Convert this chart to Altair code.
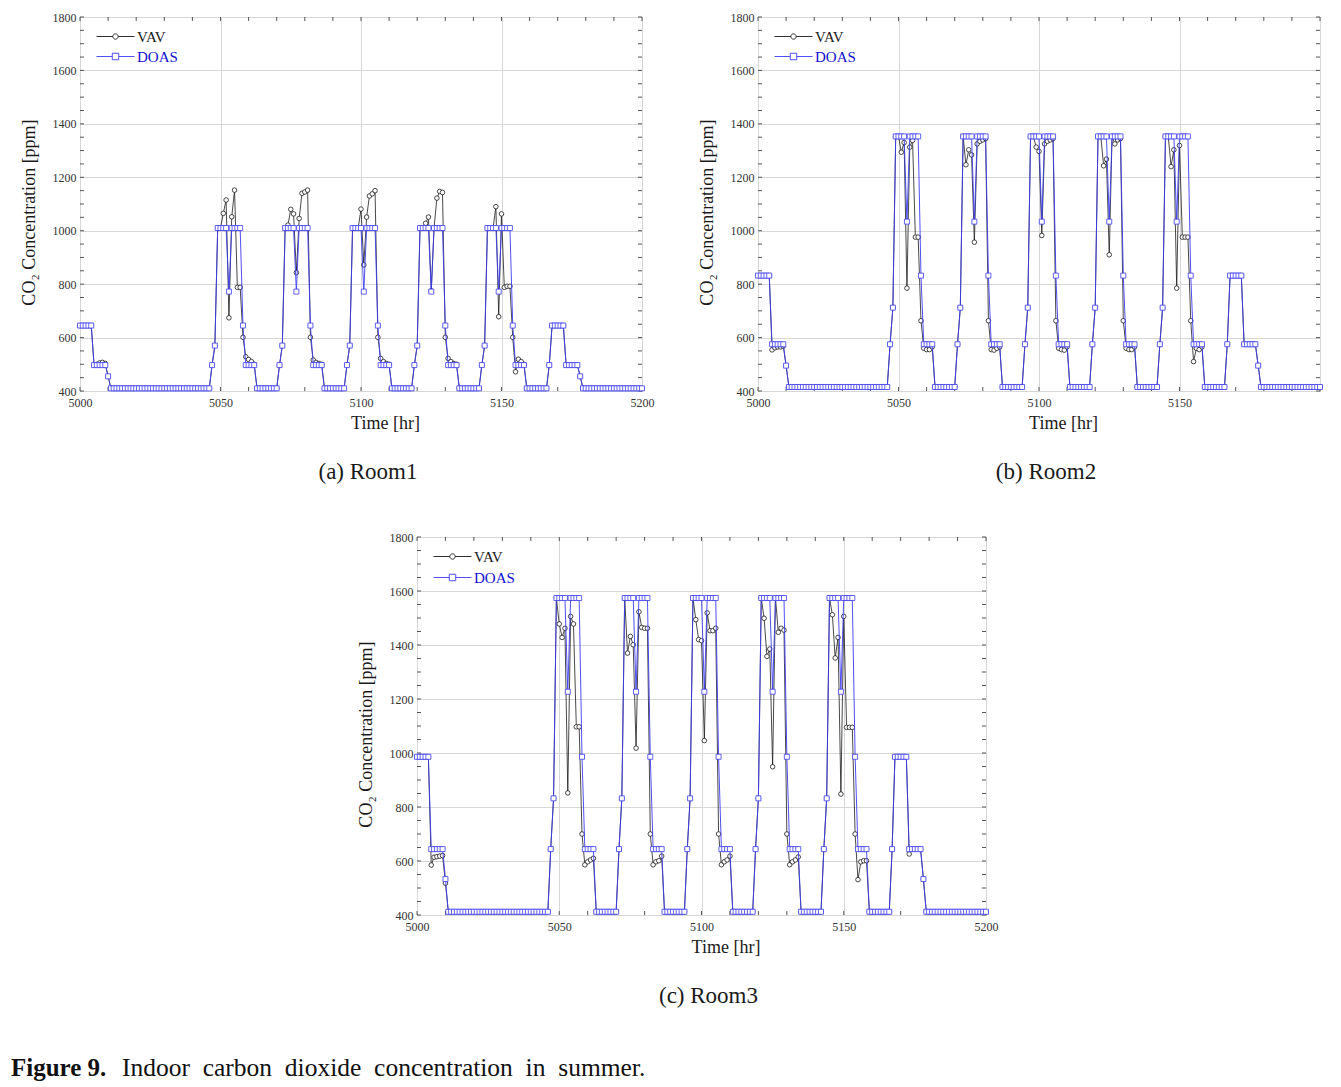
import altair as alt
import pandas as pd

SERIF = "Liberation Serif"
INK = "#1a1a1a"
BLUE = "#3c3cf2"
BLUE_TEXT = "#1010d0"
GRID = "#d6d6d6"
FRAME = "#555555"
LABEL = "#333333"

HOURS = list(range(5000, 5201))
X_LABELS = [5000, 5050, 5100, 5150, 5200]
X_MINOR = list(range(5000, 5201, 10))
Y_LABELS = list(range(400, 1801, 200))
Y_MINOR = list(range(400, 1801, 50))

# ---- Room 1 (value, number of consecutive hourly points) ----
DOAS_R1 = [
    (645, 5), (497, 5), (455, 1), (410, 36),
    (497, 1), (570, 1), (1010, 4), (772, 1), (1010, 4), (645, 1), (497, 4), (410, 8),
    (497, 1), (570, 1), (1010, 4), (772, 1), (1010, 4), (645, 1), (497, 4), (410, 8),
    (497, 1), (570, 1), (1010, 4), (772, 1), (1010, 4), (645, 1), (497, 4), (410, 8),
    (497, 1), (570, 1), (1010, 4), (772, 1), (1010, 4), (645, 1), (497, 4), (410, 8),
    (497, 1), (570, 1), (1010, 4), (772, 1), (1010, 4), (645, 1), (497, 4), (410, 8),
    (497, 1), (645, 5), (497, 5), (455, 1), (410, 22),
]
VAV_R1 = [
    (645, 5), (497, 1), (500, 1), (505, 1), (507, 1), (503, 1), (455, 1), (410, 36),
    (497, 1), (570, 1), (1010, 2), (1065, 1), (1115, 1), (674, 1), (1052, 1), (1152, 1),
    (788, 2), (601, 1), (528, 1), (518, 1), (510, 1), (500, 1), (410, 8),
    (497, 1), (570, 1), (1010, 1), (1021, 1), (1080, 1), (1063, 1), (843, 1), (1046, 1),
    (1140, 1), (1145, 1), (1152, 1), (601, 1), (516, 1), (507, 1), (503, 1), (500, 1), (410, 8),
    (497, 1), (570, 1), (1010, 3), (1081, 1), (872, 1), (1051, 1), (1130, 1), (1138, 1),
    (1150, 1), (601, 1), (522, 1), (510, 1), (503, 1), (500, 1), (410, 8),
    (497, 1), (570, 1), (1010, 2), (1028, 1), (1051, 1), (775, 1), (1010, 1), (1122, 1),
    (1147, 1), (1143, 1), (601, 1), (522, 1), (510, 1), (503, 1), (500, 1), (410, 8),
    (497, 1), (570, 1), (1010, 3), (1090, 1), (678, 1), (1063, 1), (788, 1), (792, 2),
    (601, 1), (472, 1), (519, 1), (510, 1), (500, 1), (410, 8),
    (497, 1), (645, 5), (497, 5), (455, 1), (410, 22),
]

# ---- Room 2 ----
DOAS_R2 = [
    (832, 5), (575, 5), (495, 1), (415, 36),
    (575, 1), (712, 1), (1353, 4), (1034, 1), (1353, 4), (832, 1), (575, 4), (415, 8),
    (575, 1), (712, 1), (1353, 4), (1034, 1), (1353, 4), (832, 1), (575, 4), (415, 8),
    (575, 1), (712, 1), (1353, 4), (1034, 1), (1353, 4), (832, 1), (575, 4), (415, 8),
    (575, 1), (712, 1), (1353, 4), (1034, 1), (1353, 4), (832, 1), (575, 4), (415, 8),
    (575, 1), (712, 1), (1353, 4), (1034, 1), (1353, 4), (832, 1), (575, 4), (415, 8),
    (575, 1), (832, 5), (575, 5), (495, 1), (415, 22),
]
VAV_R2 = [
    (832, 5), (554, 1), (562, 1), (565, 2), (568, 1), (495, 1), (415, 36),
    (575, 1), (712, 1), (1353, 2), (1294, 1), (1330, 1), (785, 1), (1313, 1), (1338, 1),
    (976, 2), (663, 1), (560, 1), (555, 2), (565, 1), (415, 8),
    (575, 1), (712, 1), (1353, 1), (1247, 1), (1303, 1), (1284, 1), (957, 1), (1325, 1),
    (1335, 1), (1340, 1), (1345, 1), (663, 1), (555, 1), (553, 1), (560, 1), (565, 1), (415, 8),
    (575, 1), (712, 1), (1353, 2), (1313, 1), (1297, 1), (982, 1), (1325, 1), (1335, 1),
    (1340, 1), (1345, 1), (663, 1), (560, 1), (555, 1), (553, 1), (565, 1), (415, 8),
    (575, 1), (712, 1), (1353, 2), (1243, 1), (1268, 1), (910, 1), (1353, 1), (1325, 1),
    (1340, 1), (1345, 1), (663, 1), (560, 1), (555, 2), (565, 1), (415, 8),
    (575, 1), (712, 1), (1353, 2), (1240, 1), (1303, 1), (785, 1), (1319, 1), (976, 3),
    (663, 1), (510, 1), (560, 1), (555, 1), (565, 1), (415, 8),
    (575, 1), (832, 5), (575, 5), (495, 1), (415, 22),
]

# ---- Room 3 ----
DOAS_R3 = [
    (986, 5), (644, 5), (533, 1), (412, 36),
    (644, 1), (832, 1), (1574, 4), (1227, 1), (1574, 4), (986, 1), (644, 4), (412, 8),
    (644, 1), (832, 1), (1574, 4), (1227, 1), (1574, 4), (986, 1), (644, 4), (412, 8),
    (644, 1), (832, 1), (1574, 4), (1227, 1), (1574, 4), (986, 1), (644, 4), (412, 8),
    (644, 1), (832, 1), (1574, 4), (1227, 1), (1574, 4), (986, 1), (644, 4), (412, 8),
    (644, 1), (832, 1), (1574, 4), (1227, 1), (1574, 4), (986, 1), (644, 4), (412, 8),
    (644, 1), (986, 5), (644, 5), (533, 1), (412, 22),
]
VAV_R3 = [
    (986, 5), (585, 1), (614, 1), (616, 1), (618, 1), (620, 1), (518, 1), (412, 36),
    (644, 1), (832, 1), (1574, 1), (1478, 1), (1428, 1), (1462, 1), (852, 1), (1506, 1),
    (1478, 1), (1097, 2), (700, 1), (586, 1), (597, 1), (604, 1), (610, 1), (412, 8),
    (644, 1), (832, 1), (1574, 1), (1370, 1), (1432, 1), (1401, 1), (1018, 1), (1523, 1),
    (1465, 1), (1462, 2), (700, 1), (586, 1), (597, 1), (601, 1), (618, 1), (412, 8),
    (644, 1), (832, 1), (1574, 1), (1494, 1), (1420, 1), (1416, 1), (1046, 1), (1519, 1),
    (1453, 2), (1462, 1), (700, 1), (586, 1), (597, 1), (604, 1), (618, 1), (412, 8),
    (644, 1), (832, 1), (1574, 1), (1499, 1), (1358, 1), (1385, 1), (949, 1), (1574, 1),
    (1447, 1), (1462, 1), (1455, 1), (700, 1), (586, 1), (597, 1), (604, 1), (615, 1), (412, 8),
    (644, 1), (832, 1), (1574, 1), (1512, 1), (1352, 1), (1428, 1), (848, 1), (1506, 1),
    (1095, 3), (700, 1), (531, 1), (597, 1), (601, 2), (412, 8),
    (644, 1), (986, 5), (626, 1), (644, 4), (533, 1), (412, 22),
]

CAPTIONS = ["(a) Room1", "(b) Room2", "(c) Room3"]
FIG_LABEL = "Figure 9."
FIG_TEXT = "Indoor carbon dioxide concentration in summer."

VAV_SYMBOL = ("M-1,0L-0.14,0M0.14,0L1,0M0.14,0A0.14,0.14,0,1,1,-0.14,0"
              "A0.14,0.14,0,1,1,0.14,0Z")
DOAS_SYMBOL = ("M-1,0L-0.17,0M0.17,0L1,0M-0.17,-0.17L0.17,-0.17L0.17,0.17"
               "L-0.17,0.17Z")


def expand(rle):
    out = []
    for value, count in rle:
        out.extend([value] * count)
    assert len(out) == len(HOURS), len(out)
    return out


def legend(symbol, color, y0):
    return alt.Legend(
        title=None, orient="none", legendX=16, legendY=y0,
        symbolType=symbol, symbolSize=1444, symbolStrokeWidth=0.9,
        symbolFillColor="white", labelFont=SERIF, labelFontSize=15,
        labelColor=color, labelOffset=2, padding=0,
    )


def panel(vav_rle, doas_rle, width, height, caption, legend_gap, hide_last=False):
    df = pd.DataFrame({"t": HOURS, "VAV": expand(vav_rle), "DOAS": expand(doas_rle)})
    long = df.melt(id_vars="t", var_name="series", value_name="v")

    x_kw = dict(
        values=X_LABELS, format="d", title="Time [hr]", grid=True, gridColor=GRID,
        gridWidth=1, ticks=False, domain=False, labelFont=SERIF, labelFontSize=12,
        labelColor=LABEL, labelPadding=6, labelFlush=False, titleFont=SERIF,
        titleFontSize=18, titleFontWeight="normal", titleColor=INK, titlePadding=6,
        titleX=width / 2 + 24,
    )
    if hide_last:
        x_kw["labelExpr"] = "datum.value == 5200 ? '' : datum.label"
    x = alt.X("t:Q", scale=alt.Scale(domain=[5000, 5200], nice=False, zero=False),
              axis=alt.Axis(**x_kw))
    y = alt.Y("v:Q", scale=alt.Scale(domain=[400, 1800], nice=False, zero=False),
              axis=alt.Axis(
                  values=Y_LABELS, format="d", title="CO\u2082 Concentration [ppm]",
                  grid=True, gridColor=GRID, gridWidth=1, ticks=False, domain=False,
                  labelFont=SERIF, labelFontSize=12, labelColor=LABEL, labelPadding=4,
                  labelFlush=False, titleFont=SERIF, titleFontSize=18,
                  titleFontWeight="normal", titleColor=INK, titlePadding=14,
                  titleY=height / 2 + 8))

    tx = alt.Chart(pd.DataFrame({"t": X_MINOR}))
    ty = alt.Chart(pd.DataFrame({"v": Y_MINOR}))
    tick_b = tx.mark_rule(stroke=FRAME, strokeWidth=1).encode(
        x=x, y=alt.value(height - 4), y2=alt.value(height))
    tick_t = tx.mark_rule(stroke=FRAME, strokeWidth=1).encode(
        x=x, y=alt.value(0), y2=alt.value(4))
    tick_l = ty.mark_rule(stroke=FRAME, strokeWidth=1).encode(
        y=y, x=alt.value(0), x2=alt.value(4))
    tick_r = ty.mark_rule(stroke=FRAME, strokeWidth=1).encode(
        y=y, x=alt.value(width - 4), x2=alt.value(width))

    vav = alt.Chart(long).transform_filter(alt.datum.series == "VAV")
    doas = alt.Chart(long).transform_filter(alt.datum.series == "DOAS")

    vav_line = vav.mark_line(stroke=INK, strokeWidth=0.8).encode(x=x, y=y)
    vav_pts = vav.mark_point(filled=True, fill="white", size=21, strokeWidth=0.8,
                             opacity=1).encode(
        x=x, y=y,
        stroke=alt.Stroke("series:N", scale=alt.Scale(domain=["VAV"], range=[INK]),
                          legend=legend(VAV_SYMBOL, INK, 0)))
    doas_line = doas.mark_line(stroke=BLUE, strokeWidth=0.9).encode(x=x, y=y)
    doas_pts = doas.mark_square(filled=True, fill="white", size=25, strokeWidth=0.8,
                                opacity=1).encode(
        x=x, y=y,
        stroke=alt.Stroke("series:N", scale=alt.Scale(domain=["DOAS"], range=[BLUE]),
                          legend=legend(DOAS_SYMBOL, BLUE_TEXT, legend_gap)))

    return alt.layer(
        tick_b, tick_t, tick_l, tick_r, vav_line, vav_pts, doas_line, doas_pts
    ).resolve_scale(stroke="independent").properties(
        width=width, height=height,
        title=alt.TitleParams(caption, orient="bottom", frame="group", anchor="middle",
                              dx=7, offset=29, font=SERIF, fontSize=23,
                              fontWeight="normal", color=INK),
    )


r1 = panel(VAV_R1, DOAS_R1, 562, 374, CAPTIONS[0], 20)
r2 = panel(VAV_R2, DOAS_R2, 562, 374, CAPTIONS[1], 20, hide_last=True)
r3 = panel(VAV_R3, DOAS_R3, 569, 378, CAPTIONS[2], 21)

blank = alt.ViewBackground(stroke="transparent")
spacer = alt.Chart(pd.DataFrame({"a": [0]})).mark_point(opacity=0).properties(
    width=275, height=20, view=blank)

fig_text = "\u00a0\u00a0".join(FIG_TEXT.split(" "))
cap_a = alt.Chart(pd.DataFrame({"s": [FIG_LABEL]})).mark_text(
    align="left", baseline="middle", font=SERIF, fontSize=25, fontWeight="bold",
    color="#111111").encode(text="s:N", x=alt.value(-69), y=alt.value(13))
cap_b = alt.Chart(pd.DataFrame({"s": [fig_text]})).mark_text(
    align="left", baseline="middle", font=SERIF, fontSize=25.5, fontWeight="normal",
    color="#111111").encode(text="s:N", x=alt.value(42), y=alt.value(13))
caption = alt.layer(cap_a, cap_b).properties(width=600, height=24, view=blank)

top = alt.hconcat(r1, r2, spacing=42).resolve_scale(stroke="independent")
bottom = alt.hconcat(spacer, r3, spacing=0).resolve_scale(stroke="independent")

chart = alt.vconcat(top, bottom, caption, spacing=45).resolve_scale(
    stroke="independent"
).properties(
    padding={"left": 2, "top": 2, "right": 0, "bottom": 0},
    background="white",
).configure_view(stroke=FRAME, strokeWidth=1)

chart.save("out.html", embed_options={"renderer": "svg", "actions": False})
